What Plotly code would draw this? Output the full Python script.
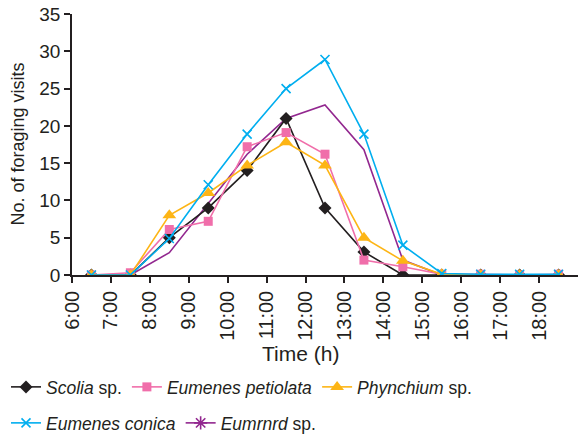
import plotly.graph_objects as go

hours = [6, 7, 8, 9, 10, 11, 12, 13, 14, 15, 16, 17, 18]
tick_labels = ["6:00", "7:00", "8:00", "9:00", "10:00", "11:00", "12:00",
               "13:00", "14:00", "15:00", "16:00", "17:00", "18:00"]
times = [6.5, 7.5, 8.5, 9.5, 10.5, 11.5, 12.5, 13.5, 14.5, 15.5, 16.5, 17.5, 18.5]

scolia = [0, 0, 5, 9, 14, 21, 9, 3.1, 0, 0, 0, 0, 0]
petiolata = [0, 0.3, 6.1, 7.2, 17.2, 19.1, 16.2, 2.0, 1.1, 0.1, 0.1, 0, 0.1]
phynchium = [0, 0, 8.0, 11.0, 14.7, 17.8, 14.7, 5.0, 1.9, 0.1, 0, 0, 0]
conica = [0, 0, 4.9, 12.1, 18.9, 25.0, 28.9, 18.9, 4.0, 0.2, 0.1, 0.1, 0.1]
eumrnrd = [0, 0, 3.0, 9.6, 16.2, 21.0, 22.8, 16.8, 2.0, 0, 0, 0, 0]

names = ["<i>Scolia</i> sp.", "<i>Eumenes petiolata</i>", "<i>Phynchium</i> sp.",
         "<i>Eumenes conica</i>", "<i>Eumrnrd</i> sp."]

BLACK = "#231f20"
fig = go.Figure()

fig.add_trace(go.Scatter(x=times, y=eumrnrd, mode="lines", showlegend=False,
                         line=dict(color="#92278f", width=1.6)))
fig.add_trace(go.Scatter(x=times, y=scolia, mode="lines+markers", name=names[0],
                         legend="legend",
                         line=dict(color=BLACK, width=1.6),
                         marker=dict(symbol="diamond", size=10, color=BLACK)))
fig.add_trace(go.Scatter(x=times, y=petiolata, mode="lines+markers", name=names[1],
                         legend="legend",
                         line=dict(color="#f06eaa", width=1.6),
                         marker=dict(symbol="square", size=9, color="#f06eaa")))
fig.add_trace(go.Scatter(x=times, y=phynchium, mode="lines+markers", name=names[2],
                         legend="legend",
                         line=dict(color="#fdb515", width=1.6),
                         marker=dict(symbol="triangle-up", size=12, color="#fdb515")))
fig.add_trace(go.Scatter(x=times, y=conica, mode="lines+markers", name=names[3],
                         legend="legend2",
                         line=dict(color="#00aeef", width=1.6),
                         marker=dict(symbol="x-thin", size=9,
                                     line=dict(color="#00aeef", width=1.6))))
fig.add_trace(go.Scatter(x=[None], y=[None], mode="lines+markers", name=names[4],
                         legend="legend2",
                         line=dict(color="#92278f", width=1.6),
                         marker=dict(symbol="asterisk", size=11,
                                     line=dict(color="#92278f", width=1.6))))

legend_common = dict(orientation="h", xref="container", yref="container",
                     xanchor="left", yanchor="middle", font=dict(size=17.5, color=BLACK),
                     itemwidth=30, bgcolor="rgba(0,0,0,0)", traceorder="normal")

fig.update_layout(
    width=578, height=434,
    margin=dict(l=72, r=0, t=14, b=159),
    paper_bgcolor="white", plot_bgcolor="white",
    font=dict(family="Liberation Sans, Arial, sans-serif", size=16, color=BLACK),
    showlegend=True,
    legend=dict(x=6 / 578, y=1 - 387 / 434, **legend_common),
    legend2=dict(x=6 / 578, y=1 - 423 / 434, **legend_common),
    annotations=[
        dict(text="Time (h)", xref="paper", yref="paper",
             x=(300 - 72) / 506, y=-(354 - 275) / 261,
             xanchor="center", yanchor="middle", showarrow=False,
             font=dict(size=21, color=BLACK)),
        dict(text="No. of foraging visits", xref="paper", yref="paper",
             x=-(72 - 17) / 506, y=0.5, textangle=-90,
             xanchor="center", yanchor="middle", showarrow=False,
             font=dict(size=18, color=BLACK)),
    ],
    xaxis=dict(range=[6, 19], tickmode="array", tickvals=hours, ticktext=tick_labels,
               tickangle=-90, showgrid=False, zeroline=False, showline=True,
               linecolor=BLACK, linewidth=1.5, ticks="outside", ticklen=6,
               tickcolor=BLACK, tickwidth=1.5, tickfont=dict(size=20),
               automargin=False),
    yaxis=dict(range=[0, 35], dtick=5, showgrid=False, zeroline=False, showline=True,
               linecolor=BLACK, linewidth=1.5, ticks="outside", ticklen=6,
               tickcolor=BLACK, tickwidth=1.5, tickfont=dict(size=19),
               automargin=False),
)

fig.write_html("out.html")
